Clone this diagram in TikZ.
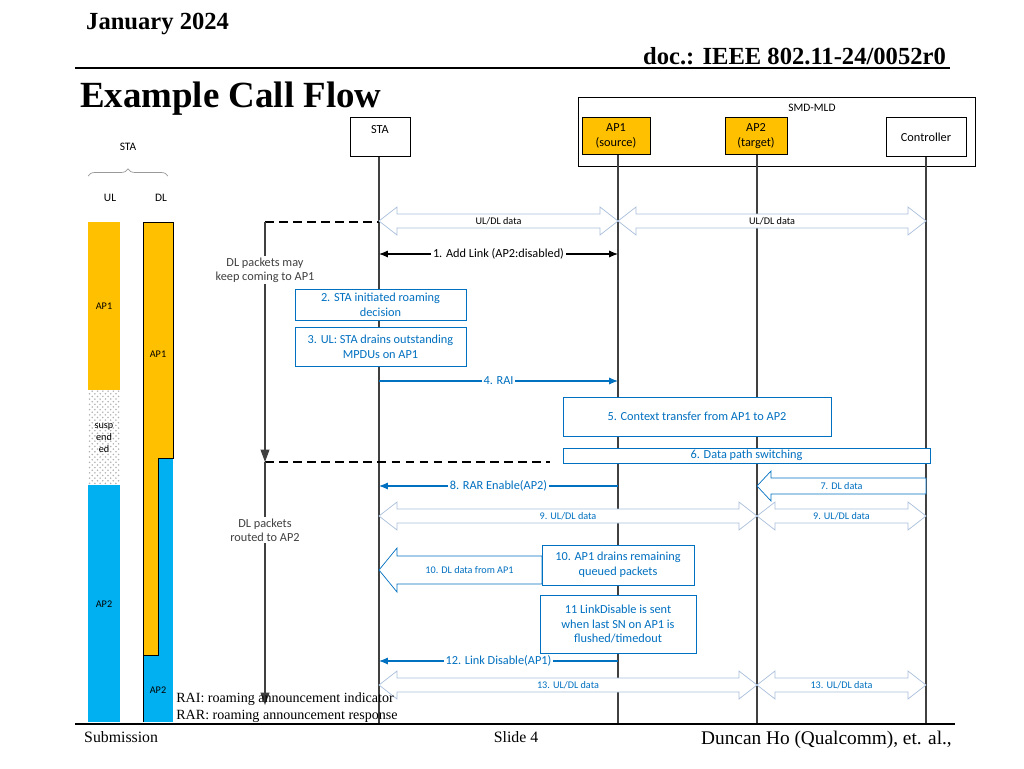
\documentclass[tikz,border=0pt]{standalone}
\usepackage{fontspec}
\setmainfont{Carlito}
\newfontfamily\tnr{Liberation Serif}
\usetikzlibrary{calc,positioning,arrows.meta,decorations.pathreplacing,patterns}
\definecolor{orng}{HTML}{FFC000}
\definecolor{cyanb}{HTML}{00B0F0}
\definecolor{txtb}{HTML}{0070C0}
\definecolor{lite}{HTML}{A9BFDC}
\newcommand{\dblarr}[4][lite]{%
  \draw[#1,fill=white] (#2) -- ($(#2)+(18,-14)$) -- ($(#2)+(18,-7)$) -- ($(#3)+(-18,-7)$) -- ($(#3)+(-18,-14)$) -- (#3)
    -- ($(#3)+(-18,14)$) -- ($(#3)+(-18,7)$) -- ($(#2)+(18,7)$) -- ($(#2)+(18,14)$) -- cycle;
  \path (#2) -- node[small] {#4} (#3);}
\newcommand{\leftarr}[4][txtb]{%
  \draw[#1,fill=white] (#2) -- ($(#2)+(18,-22)$) -- ($(#2)+(18,-14)$) -- ($(#3)+(0,-14)$) -- ($(#3)+(0,14)$)
    -- ($(#2)+(18,14)$) -- ($(#2)+(18,22)$) -- cycle;
  \path ($(#2)+(18,0)$) -- node[small] {#4} (#3);}
\begin{document}
\begin{tikzpicture}[x=0.02cm,y=-0.02cm,
    ent/.style={draw,fill=white,align=center,font=\fontsize{7}{8.5}\selectfont},
    life/.style={draw=black!75,line width=0.6pt},
    small/.style={text=txtb,font=\fontsize{5.8}{7}\selectfont},
    lbl/.style={fill=white,inner sep=1pt,font=\fontsize{7}{8}\selectfont},
    msg/.style={draw=txtb,-{Latex[length=5pt,width=4pt]},line width=0.6pt},
    bbox/.style={draw=txtb,fill=white,align=center,text=txtb,font=\fontsize{7}{8.5}\selectfont,inner sep=0pt},
    dashln/.style={line width=0.8pt,dash pattern=on 5pt off 3pt}]
\useasboundingbox (0,0) rectangle (1024,768);
% header
\node[font=\tnr\bfseries\fontsize{14}{16}\selectfont,anchor=west] (month) at (80,24) {January 2024};
\node[font=\tnr\bfseries\fontsize{14}{16}\selectfont,anchor=east] (doc) at (952,56) {doc.: IEEE 802.11-24/0052r0};
\draw[line width=0.8pt] (75,68) -- (950,68);
\node[font=\tnr\bfseries\fontsize{21}{24}\selectfont,anchor=west] (title) at (74,99) {Example Call Flow};
% entities
\node[draw,minimum width=397*0.02cm,minimum height=69*0.02cm,anchor=north west] (mld) at (578,97) {};
\node[font=\fontsize{6.5}{8}\selectfont] at (812,108) {SMD-MLD};
\node[ent,minimum width=60*0.02cm,minimum height=39*0.02cm] (sta) at (380,137) {\raisebox{8pt}{STA}};
\node[ent,fill=orng,minimum width=68*0.02cm,minimum height=37*0.02cm] (ap1) at (616,136) {AP1\\(source)};
\node[ent,fill=orng,minimum width=62*0.02cm,minimum height=37*0.02cm] (ap2) at (756,136) {AP2\\(target)};
\node[ent,minimum width=80*0.02cm,minimum height=39*0.02cm] (ctrl) at (926,137) {Controller};
\draw[life] (379,157) -- (379,725);
\draw[life] (618,155) -- (618,725);
\draw[life] (757,155) -- (757,725);
\draw[life] (926,157) -- (926,725);
% STA link bars
\node[font=\fontsize{6.5}{8}\selectfont] (stal) at (128,147) {STA};
\draw[black!40,decorate,decoration={brace,amplitude=4pt}] (88,176) -- (168,176);
\node[font=\fontsize{6.5}{8}\selectfont] (ul) at (110,198) {UL};
\node[font=\fontsize{6.5}{8}\selectfont] (dl) at (161,198) {DL};
\fill[orng] (88,222) rectangle (120,390);
\fill[pattern=crosshatch dots,pattern color=black!30] (88,390) rectangle (120,485);
\fill[cyanb] (88,485) rectangle (120,722);
\fill[orng] (143,222) rectangle (173,458);
\fill[orng] (143,458) rectangle (158,658);
\fill[cyanb] (158,458) rectangle (173,655);
\fill[cyanb] (143,655) rectangle (173,722);
\draw[line width=0.5pt] (143,722) -- (143,222) -- (173,222) -- (173,458) -- (158,458) -- (158,655) -- (143,655);
\node[font=\fontsize{5.8}{7}\selectfont] at (104,306) {AP1};
\node[font=\fontsize{5.8}{7}\selectfont] at (158,354) {AP1};
\node[font=\fontsize{5.8}{7}\selectfont,align=center] at (104,438) {susp\\end\\ed};
\node[font=\fontsize{5.8}{7}\selectfont] at (104,604) {AP2};
\node[font=\fontsize{5.8}{7}\selectfont] at (158,690) {AP2};
% DL packet routing
\coordinate (k0) at (265,222);
\coordinate (k1) at (265,462);
\coordinate (k2) at (265,705);
\draw[dashln] (k0) -- (379,222);
\draw[dashln] (k1) -- (550,462);
\draw[black!75,line width=0.6pt,-{Triangle[length=7pt,width=5pt]}] (k0) -- node[lbl,align=center,pos=0.2] {DL packets may\\keep coming to AP1} (k1);
\draw[black!75,line width=0.6pt,-{Triangle[length=7pt,width=5pt]}] (k1) -- node[lbl,align=center,pos=0.28] {DL packets\\routed to AP2} (k2);
% messages
\coordinate (a1) at (379,221); \coordinate (b1) at (618,221); \coordinate (c1) at (926,221);
\dblarr{a1}{b1}{\color{black}UL/DL data}
\dblarr{b1}{c1}{\color{black}UL/DL data}
\coordinate (a2) at (379,254); \coordinate (b2) at (618,254);
\draw[line width=0.6pt,{Latex[length=5pt,width=4pt]}-{Latex[length=5pt,width=4pt]}] (a2) -- node[lbl] {1. Add Link (AP2:disabled)} (b2);
\node[bbox,minimum width=171*0.02cm,minimum height=31*0.02cm] (s2) at (380.5,304.5) {2. STA initiated roaming\\decision};
\node[bbox,minimum width=171*0.02cm,minimum height=39*0.02cm] (s3) at (380.5,346.5) {3. UL: STA drains outstanding\\MPDUs on AP1};
\coordinate (a4) at (379,381); \coordinate (b4) at (618,381);
\draw[msg] (a4) -- node[lbl,text=txtb] {4. RAI} (b4);
\node[bbox,minimum width=268*0.02cm,minimum height=39*0.02cm] (s5) at (697,416.5) {5. Context transfer from AP1 to AP2};
\node[bbox,minimum width=367*0.02cm,minimum height=15*0.02cm] (s6) at (746.5,455.5) {6. Data path switching};
\coordinate (a7) at (757,486); \coordinate (b7) at (926,486);
\draw[txtb,fill=white] (a7) -- ($(a7)+(14,-15)$) -- ($(a7)+(14,-8)$) -- ($(b7)+(0,-8)$) -- ($(b7)+(0,8)$) -- ($(a7)+(14,8)$) -- ($(a7)+(14,15)$) -- cycle;
\path (a7) -- node[small] {7. DL data} (b7);
\coordinate (a8) at (379,486); \coordinate (b8) at (618,486);
\draw[msg] (b8) -- node[lbl,text=txtb] {8. RAR Enable(AP2)} (a8);
\coordinate (a9) at (379,516); \coordinate (b9) at (757,516); \coordinate (c9) at (926,516);
\dblarr{a9}{b9}{9. UL/DL data}
\dblarr{b9}{c9}{9. UL/DL data}
\coordinate (a10) at (379,570); \coordinate (b10) at (542,570);
\leftarr{a10}{b10}{10. DL data from AP1}
\node[bbox,minimum width=152*0.02cm,minimum height=40*0.02cm] (s10) at (618,565) {10. AP1 drains remaining\\queued packets};
\node[bbox,minimum width=156*0.02cm,minimum height=58*0.02cm] (s11) at (618,624) {11 LinkDisable is sent\\when last SN on AP1 is\\flushed/timedout};
\coordinate (a12) at (379,661); \coordinate (b12) at (618,661);
\draw[msg] (b12) -- node[lbl,text=txtb] {12. Link Disable(AP1)} (a12);
\coordinate (a13) at (379,685); \coordinate (b13) at (757,685); \coordinate (c13) at (926,685);
\dblarr{a13}{b13}{13. UL/DL data}
\dblarr{b13}{c13}{13. UL/DL data}
% notes and footer
\node[font=\tnr\fontsize{8}{9}\selectfont,anchor=west,inner sep=0pt] (rai) at (176,699) {RAI: roaming announcement indicator};
\node[font=\tnr\fontsize{8}{9}\selectfont,anchor=west,inner sep=0pt] (rar) at (176,716) {RAR: roaming announcement response};
\draw[line width=0.8pt] (75,724) -- (955,724);
\node[font=\tnr\fontsize{9}{10}\selectfont,anchor=west] (subm) at (78,737) {Submission};
\node[font=\tnr\fontsize{9}{10}\selectfont] (slide) at (516,737) {Slide 4};
\node[font=\tnr\fontsize{11}{12}\selectfont,anchor=east] (auth) at (958,740) {Duncan Ho (Qualcomm), et. al.,};
\end{tikzpicture}
\end{document}
